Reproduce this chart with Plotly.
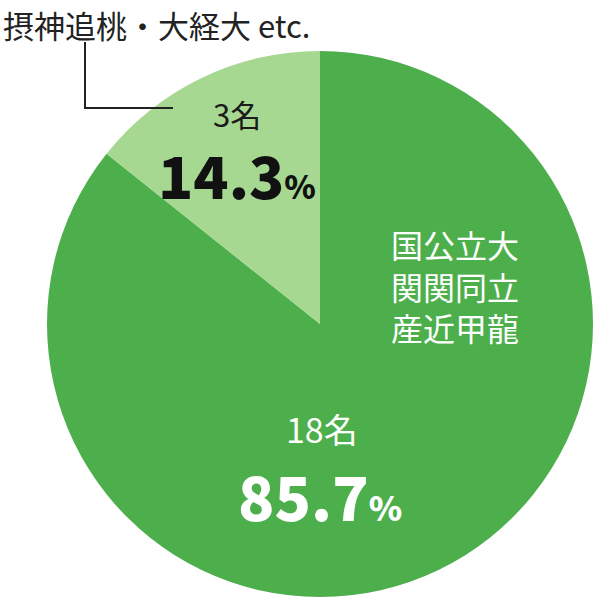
import plotly.graph_objects as go

# data
groups = ["国公立大・関関同立・産近甲龍", "摂神追桃・大経大 etc."]
counts = [18, 3]
shares = ["85.7", "14.3"]
colors = ["#4caf4b", "#a6d891"]

W, H = 594, 599
FONT = "Noto Sans CJK JP"


def px(x, y):
    # pixel position -> paper coords
    return x / W, 1 - y / H


fig = go.Figure(go.Pie(
    labels=groups,
    values=counts,
    sort=False,
    direction="clockwise",
    rotation=0,
    marker=dict(colors=colors, line=dict(width=0)),
    textinfo="none",
    hoverinfo="label+value+percent",
    domain=dict(x=[47 / W, 593 / W], y=[1 - 597 / H, 1 - 51 / H]),
    showlegend=False,
))

notes = []


def note(x, y, text, size, color, weight=400):
    xx, yy = px(x, y)
    notes.append(dict(x=xx, y=yy, xref="paper", yref="paper", text=text,
                      showarrow=False, xanchor="center", yanchor="middle",
                      font=dict(family=FONT, size=size, color=color, weight=weight)))


# small slice
note(237, 113, f"{counts[1]}名", 31, "#1a1a1a")
note(237, 174, f"{shares[1]}<span style='font-size:32px'>%</span>", 58, "#111111", 900)
# big slice
note(455, 285, "国公立大<br>関関同立<br>産近甲龍", 32, "white")
note(322, 428, f"{counts[0]}名", 34, "white")
note(320, 494, f"{shares[0]}<span style='font-size:34px'>%</span>", 60, "white", 900)

# callout title
notes.append(dict(x=1 / W, y=1, xref="paper", yref="paper", text=groups[1],
                  showarrow=False, xanchor="left", yanchor="top",
                  font=dict(family=FONT, size=31, color="#222222")))

x0, y0 = px(85, 42)
x1, y1 = px(85, 108)
x2, y2 = px(173, 108)
fig.add_shape(type="path", xref="paper", yref="paper",
              path=f"M {x0} {y0} L {x1} {y1} L {x2} {y2}",
              line=dict(color="#222222", width=2))

fig.update_layout(
    width=W, height=H,
    margin=dict(l=0, r=0, t=0, b=0),
    paper_bgcolor="white",
    plot_bgcolor="white",
    annotations=notes,
)

fig.write_html("out.html", config={"displayModeBar": False},
               post_script="document.body.style.margin='0';")
